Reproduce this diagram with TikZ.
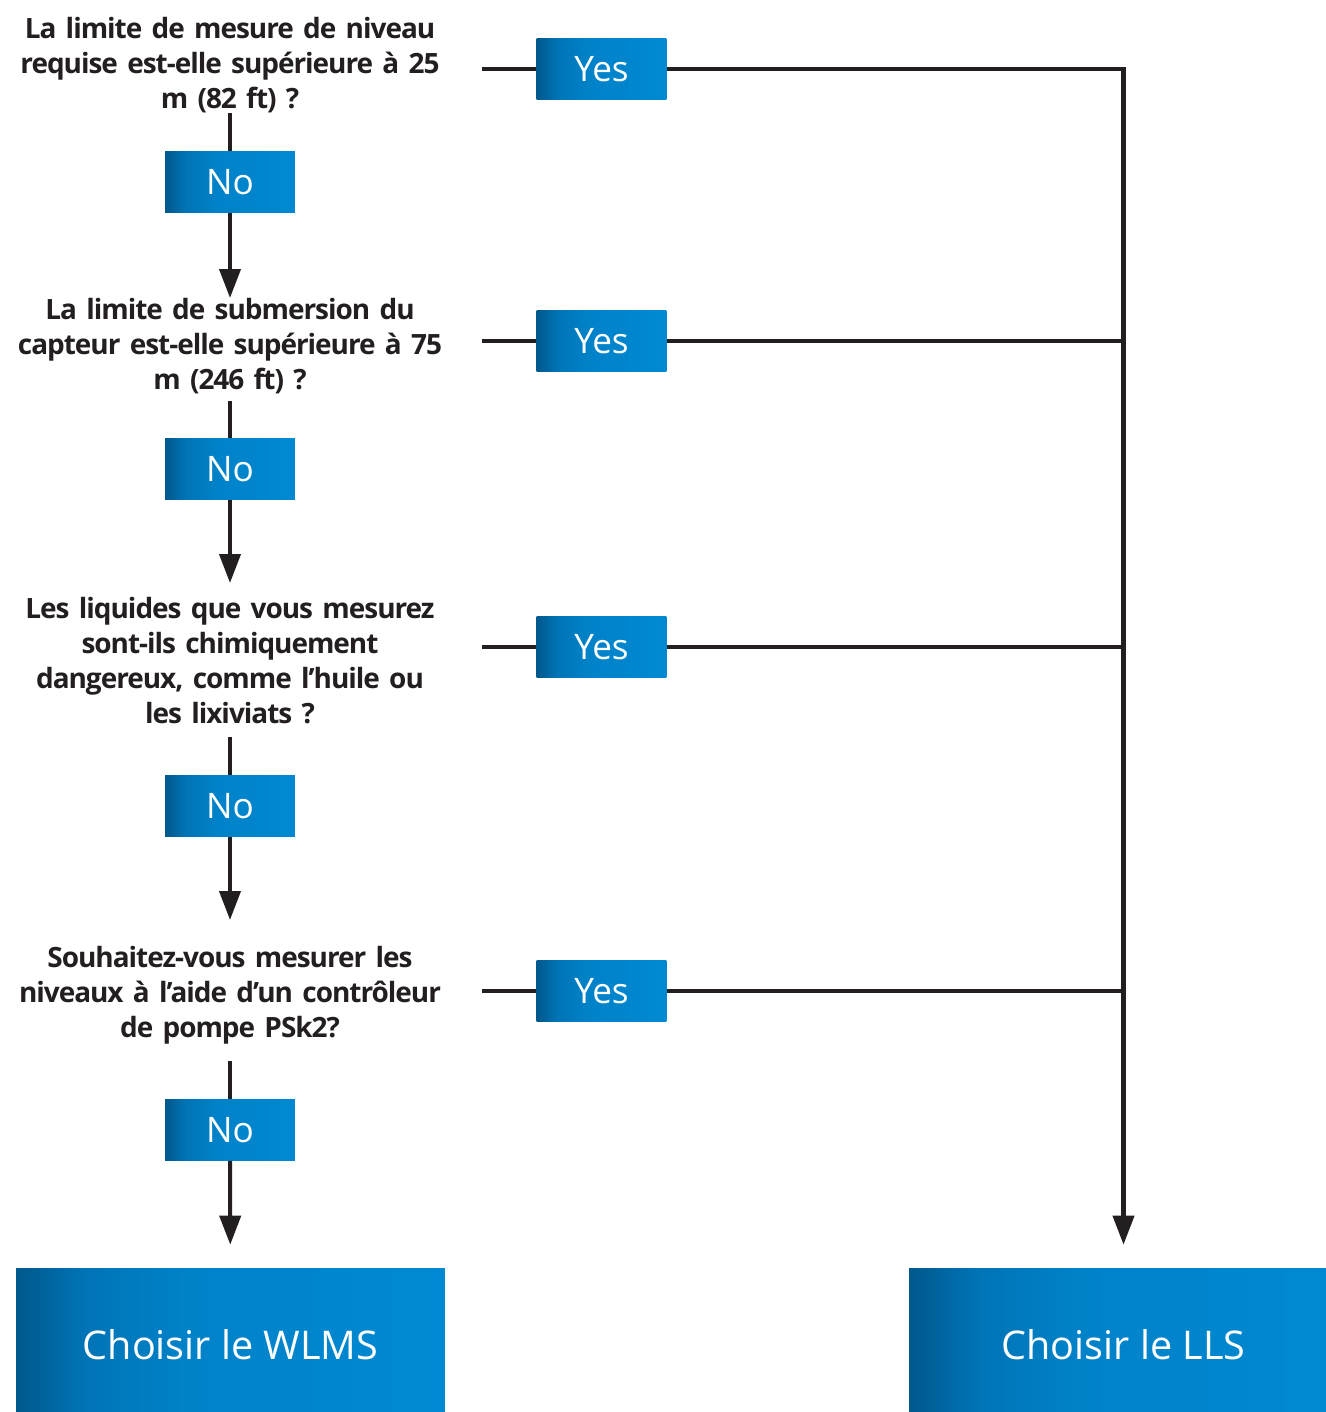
\documentclass[tikz,border=0pt]{standalone}
\usepackage{fontspec}
\setmainfont{Open Sans}
\newfontfamily\qfont{Open Sans}[LetterSpace=-3.6,WordSpace=0.7]
\usetikzlibrary{arrows.meta}
\definecolor{ink}{HTML}{231F20}
\definecolor{blueA}{HTML}{00588C}
\definecolor{blueB}{HTML}{0074B6}
\definecolor{blueC}{HTML}{0082C9}
\definecolor{blueD}{HTML}{0089D2}
\pgfdeclarehorizontalshading{bluebox}{100bp}{color(0bp)=(blueA); color(25bp)=(blueA); color(33bp)=(blueB); color(45bp)=(blueC); color(75bp)=(blueD); color(100bp)=(blueD)}
\begin{document}
\begin{tikzpicture}[x=0.02cm,y=-0.02cm,
    question/.style={align=center,inner sep=0pt,text width=10.08cm,text=ink,
                     font=\qfont\bfseries\fontsize{15.9}{19.84}\selectfont},
    answer/.style={shading=bluebox,minimum width=2.6cm,minimum height=1.22cm,
                   inner sep=0pt,text=white,font=\fontsize{20}{24}\selectfont},
    result/.style={answer,minimum width=8.58cm,minimum height=3.08cm,
                   font=\fontsize{22.5}{27}\selectfont},
    line/.style={draw=ink,line width=2.3pt},
    arrow/.style={line,-{Triangle[width=0.42cm,length=0.58cm]}}]
\useasboundingbox (0,0) rectangle (1325,1412);
% questions
\node [question,anchor=north] (q1) at (230,17) {La limite de mesure de niveau\\requise est-elle supérieure à 25\\m (82 ft) ?};
\node [question,anchor=north] (q2) at (230,298) {La limite de submersion du\\capteur est-elle supérieure à 75\\m (246 ft) ?};
\node [question,anchor=north] (q3) at (230,597) {Les liquides que vous mesurez\\sont-ils chimiquement\\dangereux, comme l’huile ou\\les lixiviats ?};
\node [question,anchor=north] (q4) at (230,946) {Souhaitez-vous mesurer les\\niveaux à l’aide d’un contrôleur\\de pompe PSk2?};
% answers
\node [answer] (n1) at (230,182) {No};
\node [answer] (n2) at (230,469) {No};
\node [answer] (n3) at (230,806) {No};
\node [answer] (n4) at (230,1130) {No};
\node [answer] (y1) at (601.5,69) {Yes};
\node [answer] (y2) at (601.5,341) {Yes};
\node [answer] (y3) at (601.5,647) {Yes};
\node [answer] (y4) at (601.5,991) {Yes};
% results
\node [result] (wlms) at (230.5,1345) {Choisir le WLMS};
\node [result] (lls) at (1123.5,1345) {Choisir le LLS};
% no branch
\draw [line] (q1) -- (n1);
\draw [arrow] (n1) -- (q2);
\draw [line,shorten <=0.14cm] (q2) -- (n2);
\draw [arrow,shorten >=0.28cm] (n2) -- (q3);
\draw [line,shorten <=0.26cm] (q3) -- (n3);
\draw [arrow,shorten >=0.52cm] (n3) -- (q4);
\draw [line,shorten <=0.34cm] (q4) -- (n4);
\draw [arrow,shorten >=0.46cm] (n4) -- (wlms);
% yes branch
\draw [line] (q1.east |- y1) -- (y1);
\draw [line] (q2.east |- y2) -- (y2);
\draw [line] (q3.east |- y3) -- (y3);
\draw [line] (q4.east |- y4) -- (y4);
\draw [arrow,shorten >=0.46cm] (y1) -| (lls);
\draw [line] (y2) -- (y2 -| lls);
\draw [line] (y3) -- (y3 -| lls);
\draw [line] (y4) -- (y4 -| lls);
\end{tikzpicture}
\end{document}
